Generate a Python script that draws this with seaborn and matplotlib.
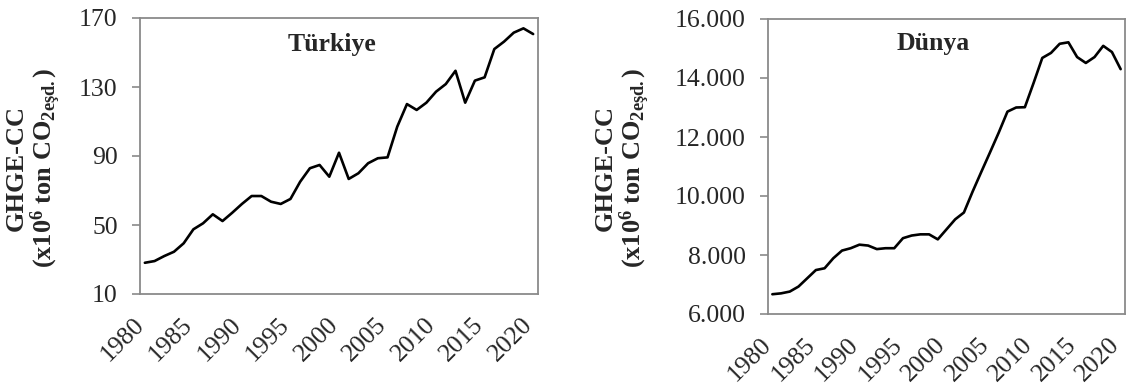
import matplotlib
matplotlib.use("Agg")
import matplotlib.pyplot as plt
import pandas as pd
import seaborn as sns
from matplotlib.ticker import FuncFormatter

# Greenhouse gas emissions, 1980-2020
years = list(range(1980, 2021))
turkiye = [28.1, 29.1, 32.0, 34.5, 39.4, 47.5, 51.0, 56.2, 52.3, 57.1,
           62.2, 66.8, 66.8, 63.5, 62.2, 65.1, 75.1, 82.9, 84.8, 78.0,
           91.9, 76.7, 80.0, 85.8, 88.7, 89.2, 107.0, 120.1, 116.7, 120.9,
           127.3, 131.7, 139.4, 120.9, 133.7, 135.6, 152.0, 156.3, 161.5, 164.0,
           160.7]
dunya = [6670, 6700, 6760, 6930, 7210, 7490, 7550, 7890, 8150, 8230,
         8350, 8320, 8200, 8230, 8230, 8570, 8660, 8700, 8700, 8530,
         8870, 9210, 9440, 10150, 10820, 11480, 12150, 12860, 13000, 13010,
         13830, 14680, 14850, 15160, 15210, 14710, 14510, 14710, 15090, 14880,
         14300]

panel_titles = ["Türkiye", "Dünya"]
left_ticks = [10, 50, 90, 130, 170]
right_ticks = [6000, 8000, 10000, 12000, 14000, 16000]
year_ticks = list(range(1980, 2021, 5))

sns.set_style("white")
plt.rcParams["font.family"] = ["Liberation Serif", "DejaVu Serif"]
plt.rcParams["mathtext.fontset"] = "custom"
plt.rcParams["mathtext.rm"] = "Liberation Serif"
plt.rcParams["mathtext.bf"] = "Liberation Serif:bold"
plt.rcParams["mathtext.it"] = "Liberation Serif:italic"

df = pd.DataFrame({"year": years, "turkiye": turkiye, "dunya": dunya})

W, H = 1126, 387
fig = plt.figure(figsize=(W / 100, H / 100), dpi=100)

def px_axes(x0, y0, x1, y1):
    return fig.add_axes([x0 / W, 1 - y1 / H, (x1 - x0) / W, (y1 - y0) / H])

ax1 = px_axes(140, 18, 538, 294)
ax2 = px_axes(768, 19, 1125, 314)

spine_color = "#8a8a8a"
fs = 18.5
ylabel = "GHGE-CC\n" + r"(x10$^{\mathbf{6}}$ ton CO$_{\mathbf{2eşd.}}$)"

for ax, col, title, ticks, tpos, lab_x in [
    (ax1, "turkiye", panel_titles[0], left_ticks, (0.482, 0.905), 34),
    (ax2, "dunya", panel_titles[1], right_ticks, (0.462, 0.918), 623),
]:
    sns.lineplot(data=df, x="year", y=col, ax=ax, color="black",
                 linewidth=1.9, legend=False)
    ax.set_xlim(1979.5, 2020.5)
    ax.set_ylim(ticks[0], ticks[-1])
    ax.set_yticks(ticks)
    ax.set_xticks(year_ticks)
    ax.set_xlabel("")
    ax.set_ylabel("")
    for s in ax.spines.values():
        s.set_color(spine_color)
        s.set_linewidth(1.3)
    ax.tick_params(axis="y", which="both", left=True, length=6, width=1.2,
                   color=spine_color, labelsize=fs, pad=10, direction="out")
    ax.tick_params(axis="x", length=0, labelsize=fs, pad=23)
    for lbl in ax.get_xticklabels():
        lbl.set_rotation(45)
        lbl.set_rotation_mode("anchor")
        lbl.set_ha("right")
        lbl.set_va("baseline")
    ax.text(tpos[0], tpos[1], title, transform=ax.transAxes, ha="center",
            va="center", fontsize=fs, fontweight="bold")
    fig.text(lab_x / W, 1 - 168 / H, ylabel, rotation=90, ha="center",
             va="center", fontsize=19, fontweight="bold", linespacing=1.0)

ax2.yaxis.set_major_formatter(
    FuncFormatter(lambda v, p: f"{int(v):,}".replace(",", ".")))

fig.savefig("out.png", dpi=100)
